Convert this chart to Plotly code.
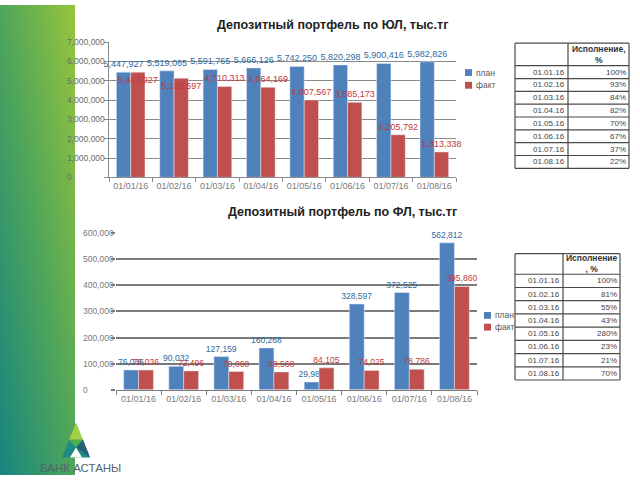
import base64
import plotly.graph_objects as go

W, H = 640, 480
def fx(p): return p / W
def fy(p): return 1 - p / H

# ---------------- data ----------------
dates_chart = ["01/01/16", "01/02/16", "01/03/16", "01/04/16",
               "01/05/16", "01/06/16", "01/07/16", "01/08/16"]
dates_table = ["01.01.16", "01.02.16", "01.03.16", "01.04.16",
               "01.05.16", "01.06.16", "01.07.16", "01.08.16"]

ul_plan = [5447927, 5519065, 5591765, 5666126, 5742250, 5820298, 5900416, 5982826]
ul_fact = [5447927, 5133597, 4710313, 4664169, 4007567, 3885173, 2205792, 1313338]
ul_pct = ["100%", "93%", "84%", "82%", "70%", "67%", "37%", "22%"]

fl_plan = [76036, 90032, 127159, 160268, 29989, 328597, 372525, 562812]
fl_fact = [76036, 72496, 70060, 68568, 84105, 74025, 78786, 395860]
fl_pct = ["100%", "81%", "55%", "43%", "280%", "23%", "21%", "70%"]

title_ul = "Депозитный портфель по ЮЛ, тыс.тг"
title_fl = "Депозитный портфель по ФЛ, тыс.тг"
legend_plan = "план"
legend_fact = "факт"
table_head_ul = ["Исполнение,", "%"]
table_head_fl = ["Исполнение", ", %"]
logo_text = "БАНК АСТАНЫ"

BLUE = "#4f81bd"
RED = "#c0504d"
BLUE_TXT = "#2d6a9f"
RED_TXT = "#bf3a3a"
FONT = "Liberation Sans"

fig = go.Figure()

# ---------------- chart 1 (ЮЛ) ----------------
fig.add_trace(go.Bar(
    x=dates_chart, y=ul_plan, name=legend_plan, marker_color=BLUE,
    texttemplate="%{y:,d}", textposition="outside", textangle=0,
    constraintext="none", cliponaxis=False, showlegend=False,
    outsidetextfont=dict(color=BLUE_TXT, size=9, family=FONT),
    xaxis="x", yaxis="y"))
fact_pos = ["inside", "inside"] + ["outside"] * 6
fig.add_trace(go.Bar(
    x=dates_chart, y=ul_fact, name=legend_fact, marker_color=RED,
    texttemplate="%{y:,d}", textposition=fact_pos, textangle=0,
    insidetextanchor="end", constraintext="none", cliponaxis=False,
    showlegend=False,
    outsidetextfont=dict(color=RED_TXT, size=9, family=FONT),
    insidetextfont=dict(color=RED_TXT, size=9, family=FONT),
    xaxis="x", yaxis="y"))

# ---------------- chart 2 (ФЛ) ----------------
fig.add_trace(go.Bar(
    x=dates_chart, y=fl_plan, name=legend_plan, marker_color=BLUE,
    texttemplate="%{y:,d}", textposition="outside", textangle=0,
    constraintext="none", cliponaxis=False, showlegend=False,
    outsidetextfont=dict(color=BLUE_TXT, size=8.5, family=FONT),
    xaxis="x2", yaxis="y2"))
fig.add_trace(go.Bar(
    x=dates_chart, y=fl_fact, name=legend_fact, marker_color=RED,
    texttemplate="%{y:,d}", textposition="outside", textangle=0,
    constraintext="none", cliponaxis=False, showlegend=False,
    outsidetextfont=dict(color=RED_TXT, size=8.5, family=FONT),
    xaxis="x2", yaxis="y2"))

# empty helper traces so the left-aligned label axes are drawn
fig.add_trace(go.Scatter(x=[], y=[], xaxis="x", yaxis="y3", showlegend=False,
                         hoverinfo="skip"))
fig.add_trace(go.Scatter(x=[], y=[], xaxis="x2", yaxis="y4", showlegend=False,
                         hoverinfo="skip"))

tickfont = dict(size=9, color="#7a7a7a", family=FONT)
GRID1 = "#8a8a8a"
GRID2 = "#7a7a7a"

fig.update_layout(
    width=W, height=H, margin=dict(l=0, r=0, t=0, b=0),
    paper_bgcolor="white", plot_bgcolor="white",
    barmode="group", bargap=0.34, bargroupgap=0, showlegend=False,
    font=dict(family=FONT, color="#595959"),
    xaxis=dict(domain=[fx(109), fx(456)], anchor="y", type="category",
               tickson="boundaries", ticks="outside", ticklen=4, tickangle=0,
               tickcolor=GRID1, showline=True, linecolor=GRID1,
               tickfont=tickfont, showgrid=False),
    yaxis=dict(domain=[fy(176), fy(38)], anchor="x", range=[0, 7000000],
               dtick=1000000, showgrid=True, gridcolor=GRID1, gridwidth=1,
               showline=True, linecolor=GRID1, ticks="outside", ticklen=4,
               tickcolor=GRID1, showticklabels=False, zeroline=False),
    yaxis3=dict(overlaying="y", anchor="free", side="right",
                position=fx(66), range=[0, 7000000], dtick=1000000,
                tickformat=",d", showgrid=False, showline=False, ticks="",
                zeroline=False, tickfont=dict(size=8.5, color="#6a6a6a", family=FONT)),
    xaxis2=dict(domain=[fx(116), fx(477)], anchor="y2", type="category",
                tickson="boundaries", ticks="outside", ticklen=4, tickangle=0,
                tickcolor=GRID2, showline=True, linecolor=GRID2,
                tickfont=tickfont, showgrid=False),
    yaxis2=dict(domain=[fy(393), fy(233)], anchor="x2", range=[0, 600000],
                dtick=100000, showgrid=True, gridcolor=GRID2, gridwidth=1.5,
                showline=False, ticks="outside", ticklen=4, tickcolor=GRID2,
                tickwidth=1.5, showticklabels=False, zeroline=False),
    yaxis4=dict(overlaying="y2", anchor="free", side="right",
                position=fx(82), range=[0, 600000], dtick=100000,
                tickformat=",d", showgrid=False, showline=False, ticks="",
                zeroline=False, tickfont=dict(size=8.5, color="#7a7a7a", family=FONT)),
)

def note(text, x, y, size, color, xanchor="center", family=FONT, align="center"):
    fig.add_annotation(text=text, xref="paper", yref="paper", x=fx(x), y=fy(y),
                       xanchor=xanchor, yanchor="middle", showarrow=False,
                       align=align, font=dict(size=size, color=color, family=family))

# titles
note("<b>" + title_ul + "</b>", 332, 20, 12.5, "#222222")
note("<b>" + title_fl + "</b>", 342, 211, 12.5, "#222222")

# ---------------- legends (compact, like the original) ----------------
def legend_box(x0, y0, step):
    for i, (name, col) in enumerate([(legend_plan, BLUE), (legend_fact, RED)]):
        yc = y0 + i * step
        fig.add_shape(type="rect", xref="paper", yref="paper",
                      x0=fx(x0), x1=fx(x0 + 7), y0=fy(yc - 3.5), y1=fy(yc + 3.5),
                      fillcolor=col, line=dict(width=0))
        note(name, x0 + 9, yc, 8.5, "#595959", xanchor="left")

legend_box(465, 69, 13)
legend_box(484, 317, 12)

# ---------------- tables ----------------
TAB_LINE = dict(color="#4a4a4a", width=1.2)
def table(x0, xm, x1, y0, yh, row_h, head, dates, pcts):
    n = len(dates)
    y_end = yh + n * row_h
    for yy in [y0, yh] + [yh + (i + 1) * row_h for i in range(n)]:
        fig.add_shape(type="line", xref="paper", yref="paper",
                      x0=fx(x0), x1=fx(x1), y0=fy(yy), y1=fy(yy), line=TAB_LINE)
    for xx in (x0, xm, x1):
        fig.add_shape(type="line", xref="paper", yref="paper",
                      x0=fx(xx), x1=fx(xx), y0=fy(y0), y1=fy(y_end), line=TAB_LINE)
    note("<b>" + "<br>".join(head) + "</b>", (xm + x1) / 2, (y0 + yh) / 2,
         8.5, "#333333")
    for i, (d, p) in enumerate(zip(dates, pcts)):
        yc = yh + (i + 0.5) * row_h
        note(d, xm - 1.5, yc, 8, "#444444", xanchor="right")
        note(p, x1 - 1.5, yc, 8, "#444444", xanchor="right")

table(515, 568, 629, 39, 62, 13.1, table_head_ul, dates_table, ul_pct)
table(515, 563, 620, 254, 275, 13.5, table_head_fl, dates_table, fl_pct)

# decorative green stripe (gradient)
svg = ('<svg xmlns="http://www.w3.org/2000/svg" width="75" height="480" '
       'viewBox="0 0 75 480" preserveAspectRatio="none">'
       '<defs><linearGradient id="g" x1="1" y1="0" x2="0" y2="1">'
       '<stop offset="0" stop-color="#97c53c"/>'
       '<stop offset="0.5" stop-color="#4fa55a"/>'
       '<stop offset="1" stop-color="#16857f"/>'
       '</linearGradient></defs>'
       '<rect width="75" height="480" fill="url(#g)"/></svg>')
src = "data:image/svg+xml;base64," + base64.b64encode(svg.encode()).decode()
fig.add_layout_image(source=src, xref="paper", yref="paper", x=0, y=1,
                     sizex=fx(75), sizey=1, xanchor="left", yanchor="top",
                     sizing="stretch", layer="below")

# logo
def tri(pts, color):
    path = "M " + " L ".join(f"{fx(a)},{fy(b)}" for a, b in pts) + " Z"
    fig.add_shape(type="path", path=path, xref="paper", yref="paper",
                  fillcolor=color, line=dict(width=0))

tri([(62, 462), (76, 427), (90, 462)], "#1d8c82")
tri([(76, 427), (69, 444), (83, 444)], "#a6cf43")
tri([(69, 444), (83, 444), (76, 452)], "#4eb050")
tri([(76, 452), (83, 444), (90, 462)], "#24607a")
tri([(70, 462), (76, 452), (82, 462)], "#ffffff")
note(logo_text, 38, 473, 11.5, "#55656a", xanchor="left", family=FONT)

fig.write_html("out.html")
